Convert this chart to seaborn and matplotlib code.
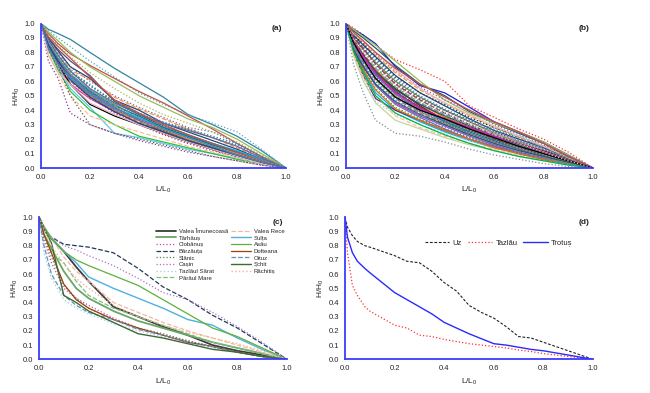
import matplotlib
matplotlib.use("Agg")
import matplotlib.pyplot as plt
import seaborn as sns
import numpy as np
from matplotlib.ticker import FormatStrFormatter

# shared L/L0 grid for panels (a) and (b)
grid_ab = [0, 0.03, 0.07, 0.12, 0.2, 0.3, 0.4, 0.5, 0.6, 0.7, 0.8, 0.9, 1.0]

# panel (a): one row per stream, H/H0 on grid_ab
curves_a = [
    [1, 0.96, 0.93, 0.89, 0.80, 0.69, 0.59, 0.49, 0.37, 0.30, 0.22, 0.12, 0],
    [1, 0.95, 0.90, 0.84, 0.74, 0.63, 0.52, 0.44, 0.37, 0.31, 0.25, 0.13, 0],
    [1, 0.93, 0.86, 0.79, 0.71, 0.62, 0.53, 0.45, 0.36, 0.27, 0.17, 0.08, 0],
    [1, 0.94, 0.88, 0.80, 0.70, 0.60, 0.50, 0.42, 0.34, 0.28, 0.20, 0.10, 0],
    [1, 0.90, 0.80, 0.70, 0.60, 0.50, 0.42, 0.35, 0.28, 0.25, 0.17, 0.08, 0],
    [1, 0.89, 0.80, 0.68, 0.61, 0.49, 0.41, 0.34, 0.27, 0.21, 0.14, 0.07, 0],
    [1, 0.90, 0.81, 0.70, 0.62, 0.47, 0.40, 0.31, 0.25, 0.19, 0.13, 0.06, 0],
    [1, 0.88, 0.78, 0.66, 0.58, 0.45, 0.38, 0.32, 0.27, 0.21, 0.16, 0.08, 0],
    [1, 0.87, 0.76, 0.65, 0.54, 0.44, 0.35, 0.28, 0.22, 0.16, 0.10, 0.05, 0],
    [1, 0.86, 0.74, 0.62, 0.52, 0.42, 0.34, 0.27, 0.21, 0.15, 0.10, 0.05, 0],
    [1, 0.85, 0.73, 0.62, 0.50, 0.40, 0.33, 0.26, 0.20, 0.14, 0.09, 0.04, 0],
    [1, 0.90, 0.82, 0.74, 0.64, 0.46, 0.37, 0.29, 0.23, 0.17, 0.11, 0.05, 0],
    [1, 0.86, 0.76, 0.64, 0.53, 0.41, 0.33, 0.26, 0.19, 0.13, 0.08, 0.04, 0],
    [1, 0.84, 0.72, 0.60, 0.50, 0.40, 0.32, 0.25, 0.19, 0.14, 0.09, 0.04, 0],
    [1, 0.83, 0.70, 0.58, 0.48, 0.39, 0.31, 0.24, 0.18, 0.13, 0.08, 0.04, 0],
    [1, 0.87, 0.77, 0.67, 0.57, 0.46, 0.38, 0.30, 0.23, 0.17, 0.11, 0.05, 0],
    [1, 0.86, 0.75, 0.63, 0.51, 0.41, 0.35, 0.28, 0.22, 0.17, 0.12, 0.06, 0],
    [1, 0.82, 0.70, 0.60, 0.49, 0.38, 0.30, 0.23, 0.17, 0.12, 0.08, 0.04, 0],
    [1, 0.85, 0.72, 0.58, 0.44, 0.36, 0.30, 0.24, 0.18, 0.13, 0.08, 0.03, 0],
    [1, 0.84, 0.70, 0.55, 0.42, 0.24, 0.21, 0.17, 0.13, 0.10, 0.07, 0.03, 0],
    [1, 0.82, 0.68, 0.53, 0.40, 0.30, 0.22, 0.18, 0.14, 0.10, 0.06, 0.03, 0],
    [1, 0.80, 0.65, 0.50, 0.36, 0.30, 0.25, 0.20, 0.15, 0.11, 0.07, 0.03, 0],
    [1, 0.82, 0.70, 0.50, 0.30, 0.24, 0.20, 0.16, 0.12, 0.08, 0.05, 0.02, 0],
    [1, 0.74, 0.62, 0.38, 0.30, 0.24, 0.19, 0.15, 0.11, 0.08, 0.05, 0.02, 0],
    [1, 0.78, 0.66, 0.58, 0.45, 0.37, 0.30, 0.24, 0.18, 0.13, 0.08, 0.03, 0],
    [1, 0.88, 0.79, 0.69, 0.55, 0.43, 0.35, 0.29, 0.22, 0.16, 0.10, 0.05, 0],
    [1, 0.84, 0.74, 0.64, 0.53, 0.43, 0.36, 0.28, 0.22, 0.16, 0.11, 0.05, 0],
    [1, 0.89, 0.78, 0.67, 0.55, 0.45, 0.37, 0.31, 0.26, 0.21, 0.15, 0.07, 0],
    [1, 0.88, 0.78, 0.67, 0.57, 0.46, 0.37, 0.31, 0.27, 0.22, 0.17, 0.08, 0],
    [1, 0.87, 0.76, 0.65, 0.54, 0.43, 0.35, 0.27, 0.21, 0.15, 0.09, 0.04, 0],
    [1, 0.91, 0.84, 0.76, 0.63, 0.47, 0.38, 0.30, 0.23, 0.17, 0.11, 0.05, 0],
    [1, 0.92, 0.85, 0.77, 0.66, 0.55, 0.45, 0.37, 0.31, 0.25, 0.18, 0.09, 0],
    [1, 0.86, 0.75, 0.64, 0.52, 0.42, 0.33, 0.25, 0.19, 0.14, 0.09, 0.04, 0],
    [1, 0.84, 0.71, 0.60, 0.48, 0.40, 0.32, 0.27, 0.20, 0.15, 0.10, 0.05, 0],
    [1, 0.85, 0.74, 0.61, 0.49, 0.39, 0.31, 0.25, 0.19, 0.14, 0.09, 0.04, 0],
    [1, 0.83, 0.72, 0.62, 0.51, 0.41, 0.34, 0.27, 0.21, 0.15, 0.09, 0.04, 0],
]

# panel (b)
curves_b = [
    [1, 0.97, 0.92, 0.85, 0.75, 0.68, 0.60, 0.43, 0.35, 0.27, 0.20, 0.11, 0],
    [1, 0.96, 0.92, 0.86, 0.70, 0.57, 0.52, 0.42, 0.32, 0.25, 0.18, 0.09, 0],
    [1, 0.95, 0.90, 0.83, 0.71, 0.58, 0.50, 0.39, 0.31, 0.24, 0.17, 0.08, 0],
    [1, 0.96, 0.91, 0.85, 0.74, 0.60, 0.47, 0.38, 0.31, 0.25, 0.18, 0.09, 0],
    [1, 0.93, 0.87, 0.79, 0.67, 0.56, 0.47, 0.40, 0.30, 0.23, 0.16, 0.08, 0],
    [1, 0.93, 0.86, 0.78, 0.66, 0.54, 0.45, 0.36, 0.28, 0.21, 0.15, 0.07, 0],
    [1, 0.92, 0.85, 0.77, 0.64, 0.52, 0.43, 0.34, 0.26, 0.20, 0.14, 0.07, 0],
    [1, 0.91, 0.84, 0.75, 0.62, 0.50, 0.41, 0.33, 0.25, 0.19, 0.13, 0.06, 0],
    [1, 0.90, 0.82, 0.73, 0.60, 0.49, 0.40, 0.32, 0.24, 0.18, 0.12, 0.06, 0],
    [1, 0.89, 0.80, 0.70, 0.57, 0.46, 0.37, 0.29, 0.22, 0.16, 0.11, 0.05, 0],
    [1, 0.88, 0.78, 0.68, 0.55, 0.44, 0.35, 0.28, 0.21, 0.15, 0.10, 0.05, 0],
    [1, 0.87, 0.76, 0.65, 0.52, 0.42, 0.33, 0.26, 0.20, 0.14, 0.09, 0.04, 0],
    [1, 0.86, 0.75, 0.63, 0.50, 0.40, 0.32, 0.25, 0.19, 0.14, 0.09, 0.04, 0],
    [1, 0.85, 0.73, 0.61, 0.48, 0.38, 0.30, 0.23, 0.17, 0.12, 0.08, 0.04, 0],
    [1, 0.84, 0.71, 0.58, 0.45, 0.36, 0.29, 0.22, 0.16, 0.11, 0.07, 0.03, 0],
    [1, 0.83, 0.69, 0.55, 0.42, 0.34, 0.27, 0.21, 0.15, 0.10, 0.06, 0.03, 0],
    [1, 0.82, 0.67, 0.52, 0.40, 0.32, 0.25, 0.19, 0.14, 0.10, 0.06, 0.03, 0],
    [1, 0.80, 0.64, 0.48, 0.40, 0.33, 0.26, 0.20, 0.15, 0.10, 0.06, 0.03, 0],
    [1, 0.72, 0.52, 0.33, 0.24, 0.22, 0.18, 0.13, 0.09, 0.06, 0.03, 0.01, 0],
    [1, 0.78, 0.60, 0.45, 0.33, 0.27, 0.21, 0.16, 0.12, 0.08, 0.05, 0.02, 0],
    [1, 0.80, 0.62, 0.46, 0.37, 0.30, 0.24, 0.19, 0.14, 0.09, 0.06, 0.03, 0],
    [1, 0.79, 0.63, 0.50, 0.36, 0.28, 0.22, 0.17, 0.13, 0.09, 0.06, 0.03, 0],
    [1, 0.88, 0.78, 0.66, 0.55, 0.43, 0.33, 0.28, 0.22, 0.17, 0.12, 0.06, 0],
    [1, 0.92, 0.86, 0.76, 0.63, 0.52, 0.44, 0.35, 0.28, 0.22, 0.15, 0.08, 0],
    [1, 0.93, 0.88, 0.80, 0.68, 0.55, 0.45, 0.37, 0.29, 0.22, 0.15, 0.07, 0],
    [1, 0.90, 0.81, 0.71, 0.58, 0.47, 0.39, 0.31, 0.24, 0.18, 0.12, 0.06, 0],
    [1, 0.87, 0.77, 0.66, 0.53, 0.41, 0.32, 0.25, 0.19, 0.13, 0.08, 0.04, 0],
    [1, 0.86, 0.74, 0.62, 0.49, 0.39, 0.31, 0.24, 0.18, 0.13, 0.08, 0.04, 0],
    [1, 0.91, 0.83, 0.74, 0.61, 0.49, 0.40, 0.33, 0.27, 0.21, 0.14, 0.07, 0],
    [1, 0.89, 0.79, 0.69, 0.56, 0.45, 0.37, 0.30, 0.23, 0.17, 0.11, 0.05, 0],
    [1, 0.94, 0.88, 0.80, 0.69, 0.58, 0.49, 0.40, 0.32, 0.25, 0.17, 0.08, 0],
    [1, 0.85, 0.72, 0.60, 0.50, 0.41, 0.33, 0.26, 0.20, 0.14, 0.09, 0.04, 0],
    [1, 0.84, 0.70, 0.57, 0.44, 0.35, 0.27, 0.20, 0.15, 0.10, 0.06, 0.03, 0],
    [1, 0.86, 0.74, 0.62, 0.50, 0.39, 0.31, 0.23, 0.17, 0.12, 0.08, 0.04, 0],
    [1, 0.88, 0.78, 0.67, 0.54, 0.44, 0.36, 0.29, 0.22, 0.16, 0.10, 0.05, 0],
    [1, 0.87, 0.77, 0.64, 0.51, 0.40, 0.33, 0.27, 0.21, 0.15, 0.10, 0.05, 0],
    [1, 0.90, 0.80, 0.70, 0.56, 0.45, 0.36, 0.29, 0.22, 0.16, 0.10, 0.05, 0],
    [1, 0.89, 0.79, 0.67, 0.53, 0.42, 0.34, 0.27, 0.20, 0.15, 0.10, 0.05, 0],
    [1, 0.83, 0.68, 0.54, 0.41, 0.33, 0.26, 0.20, 0.14, 0.10, 0.06, 0.03, 0],
    [1, 0.90, 0.82, 0.72, 0.59, 0.48, 0.40, 0.32, 0.25, 0.19, 0.13, 0.06, 0],
    [1, 0.82, 0.70, 0.58, 0.46, 0.37, 0.30, 0.23, 0.17, 0.12, 0.08, 0.04, 0],
    [1, 0.85, 0.73, 0.60, 0.47, 0.37, 0.28, 0.21, 0.15, 0.11, 0.07, 0.03, 0],
    [1, 0.88, 0.77, 0.65, 0.52, 0.41, 0.34, 0.28, 0.22, 0.17, 0.11, 0.05, 0],
    [1, 0.81, 0.66, 0.50, 0.38, 0.30, 0.23, 0.17, 0.12, 0.08, 0.05, 0.02, 0],
    [1, 0.84, 0.72, 0.59, 0.46, 0.36, 0.29, 0.22, 0.16, 0.11, 0.07, 0.03, 0],
    [1, 0.91, 0.83, 0.72, 0.58, 0.47, 0.38, 0.30, 0.23, 0.17, 0.11, 0.05, 0],
    [1, 0.87, 0.75, 0.62, 0.49, 0.40, 0.34, 0.27, 0.21, 0.15, 0.10, 0.05, 0],
    [1, 0.89, 0.80, 0.70, 0.57, 0.46, 0.38, 0.30, 0.23, 0.17, 0.11, 0.05, 0],
]

# panel (c): named tributaries
grid_c = [0, 0.02, 0.05, 0.1, 0.15, 0.2, 0.3, 0.4, 0.5, 0.6, 0.7, 0.8, 0.9, 1.0]
names_c = ["Valea Îmunecoasă", "Tărhăuș", "Ciobănuș", "Bârzăuța", "Slănic",
           "Cașin", "Tazlăul Sărat", "Pârâul Mare", "Valea Rece", "Sulța",
           "Asău", "Dofteana", "Oituz", "Șchit", "Răchitiș"]
curves_c = [
    [1, 0.93, 0.85, 0.76, 0.65, 0.55, 0.37, 0.30, 0.23, 0.17, 0.10, 0.06, 0.03, 0],
    [1, 0.88, 0.78, 0.62, 0.50, 0.43, 0.34, 0.27, 0.22, 0.17, 0.12, 0.08, 0.04, 0],
    [1, 0.84, 0.68, 0.50, 0.43, 0.38, 0.29, 0.22, 0.17, 0.13, 0.09, 0.05, 0.02, 0],
    [1, 0.92, 0.86, 0.81, 0.80, 0.79, 0.75, 0.64, 0.51, 0.42, 0.31, 0.22, 0.11, 0],
    [1, 0.86, 0.72, 0.52, 0.43, 0.36, 0.28, 0.22, 0.18, 0.13, 0.09, 0.05, 0.02, 0],
    [1, 0.93, 0.86, 0.80, 0.77, 0.73, 0.66, 0.57, 0.47, 0.42, 0.33, 0.23, 0.12, 0],
    [1, 0.75, 0.57, 0.42, 0.36, 0.32, 0.25, 0.20, 0.16, 0.12, 0.08, 0.05, 0.02, 0],
    [1, 0.88, 0.75, 0.68, 0.55, 0.45, 0.36, 0.30, 0.24, 0.18, 0.12, 0.08, 0.04, 0],
    [1, 0.93, 0.86, 0.72, 0.62, 0.55, 0.40, 0.33, 0.26, 0.20, 0.15, 0.10, 0.05, 0],
    [1, 0.93, 0.85, 0.76, 0.68, 0.58, 0.50, 0.43, 0.36, 0.28, 0.24, 0.15, 0.07, 0],
    [1, 0.93, 0.85, 0.76, 0.70, 0.66, 0.59, 0.52, 0.42, 0.32, 0.22, 0.16, 0.08, 0],
    [1, 0.88, 0.75, 0.53, 0.42, 0.36, 0.28, 0.22, 0.17, 0.12, 0.09, 0.05, 0.02, 0],
    [1, 0.80, 0.60, 0.45, 0.38, 0.33, 0.28, 0.21, 0.17, 0.12, 0.09, 0.05, 0.02, 0],
    [1, 0.92, 0.82, 0.45, 0.40, 0.34, 0.26, 0.18, 0.15, 0.11, 0.07, 0.05, 0.02, 0],
    [1, 0.92, 0.80, 0.67, 0.57, 0.50, 0.38, 0.30, 0.24, 0.19, 0.15, 0.11, 0.06, 0],
]
styles_c = [
    ("#3c3c3c", "-", 1.3), ("#6aa56a", "-", 1.3), ("#c050a0", ":", 0.9),
    ("#1f3b55", "--", 0.9), ("#5f7f5f", ":", 0.9), ("#b070c8", ":", 0.9),
    ("#a8d4f0", ":", 1.0), ("#7cc07c", "--", 0.9), ("#f2b8a2", "--", 0.9),
    ("#4fb0e2", "-", 1.0), ("#5cb03c", "-", 0.9), ("#a03c10", "-", 0.9),
    ("#6690b0", "--", 0.9), ("#3f6a30", "-", 1.0), ("#f4b48c", ":", 1.0),
]

# panel (d): main rivers
grid_d = [0, 0.01, 0.03, 0.05, 0.08, 0.1, 0.15, 0.2, 0.25, 0.3, 0.35, 0.4,
          0.45, 0.5, 0.55, 0.6, 0.65, 0.7, 0.75, 0.8, 0.85, 0.9, 0.95, 1.0]
uz = [1.0, 0.93, 0.87, 0.83, 0.80, 0.79, 0.76, 0.73, 0.69, 0.68, 0.62, 0.54,
      0.48, 0.38, 0.33, 0.29, 0.23, 0.16, 0.15, 0.12, 0.09, 0.06, 0.03, 0.0]
tazlau = [1.0, 0.75, 0.52, 0.45, 0.37, 0.34, 0.29, 0.24, 0.22, 0.17, 0.16, 0.14,
          0.125, 0.11, 0.10, 0.09, 0.08, 0.065, 0.055, 0.04, 0.03, 0.02, 0.01, 0.0]
trotus = [1.0, 0.86, 0.75, 0.69, 0.64, 0.61, 0.54, 0.47, 0.42, 0.37, 0.32, 0.26,
          0.22, 0.18, 0.145, 0.11, 0.10, 0.085, 0.07, 0.06, 0.045, 0.03, 0.015, 0.0]

sns.set_style("white")
plt.rcParams['font.family'] = ['Liberation Sans', 'DejaVu Sans']

palette = ['#31859c', '#4bacc6', '#c0504d', '#9bbb59', '#8064a2', '#f79646',
           '#1f497d', '#4f81bd', '#76923c', '#953735', '#e46c0a', '#604a7b',
           '#215968', '#7f7f7f', '#e020c0', '#00b050', '#00b0f0', '#993366',
           '#000000', '#c3d69b', '#93cddd', '#fac090', '#632523', '#17375e',
           '#e6b9b8', '#b3a2c7', '#008080', '#666699']
dash_cycle = ['-', ':', '-', '-', ':', '--', '-', ':']
axis_blue = '#3b3bff'

# a few hand-picked styles for the outlying curves
override_a = {22: ('#5a5a5a', ':'), 23: ('#8b3a8b', ':'), 19: ('#5ec8f0', '-'),
              20: ('#2fbf3f', '-')}
override_b = {0: ('#ff3030', ':'), 1: ('#2020c8', '-'), 2: ('#215968', '-'),
              18: ('#7f8f9f', ':'), 17: ('#60306a', '-')}


def style_axis(ax, letter):
    ax.set_xlim(0, 1)
    ax.set_ylim(0, 1)
    ax.set_xticks(np.arange(0, 1.01, 0.2))
    ax.set_yticks(np.arange(0, 1.01, 0.1))
    ax.xaxis.set_major_formatter(FormatStrFormatter('%.1f'))
    ax.yaxis.set_major_formatter(FormatStrFormatter('%.1f'))
    for s in ['top', 'right']:
        ax.spines[s].set_visible(False)
    for s in ['left', 'bottom']:
        ax.spines[s].set_color(axis_blue)
        ax.spines[s].set_linewidth(1.3)
    ax.tick_params(direction='out', length=2.5, width=0.8, color=axis_blue,
                   labelsize=5.5, pad=1.5)
    ax.set_xlabel('L/L$_\\mathregular{0}$', fontsize=6, labelpad=3)
    ax.set_ylabel('H/H$_\\mathregular{0}$', fontsize=6, labelpad=2)
    ax.text(0.985, 0.99, f'({letter})', transform=ax.transAxes, ha='right',
            va='top', fontsize=6, fontweight='bold')


def draw_bundle(ax, curves, overrides):
    for i, vals in enumerate(curves):
        col, ls = overrides.get(i, (palette[i % len(palette)],
                                    dash_cycle[i % len(dash_cycle)]))
        sns.lineplot(x=grid_ab, y=vals, ax=ax, color=col, linestyle=ls,
                     linewidth=0.9, legend=False)


fig = plt.figure(figsize=(6.5, 3.93), dpi=100)
ax_a = fig.add_axes([41 / 650, 225 / 393, 245 / 650, 144.5 / 393])
ax_b = fig.add_axes([346 / 650, 225 / 393, 247 / 650, 144.5 / 393])
ax_c = fig.add_axes([39 / 650, 33.7 / 393, 248 / 650, 142 / 393])
ax_d = fig.add_axes([345 / 650, 33.7 / 393, 248 / 650, 142 / 393])

draw_bundle(ax_a, curves_a, override_a)
draw_bundle(ax_b, curves_b, override_b)

for name, vals, (col, ls, lw) in zip(names_c, curves_c, styles_c):
    sns.lineplot(x=grid_c, y=vals, ax=ax_c, color=col, linestyle=ls,
                 linewidth=lw, label=name)
ax_c.legend(ncol=2, fontsize=4.3, frameon=False, loc='upper left',
            bbox_to_anchor=(0.47, 0.92), borderaxespad=0, borderpad=0,
            handlelength=3.4, labelspacing=0.25, columnspacing=0.4,
            handletextpad=0.5)

sns.lineplot(x=grid_d, y=uz, ax=ax_d, color='#222222', linestyle=(0, (2.5, 1.5)),
             linewidth=0.8, label='Uz')
sns.lineplot(x=grid_d, y=tazlau, ax=ax_d, color='#ff3030', linestyle=':',
             linewidth=0.9, label='Tazlău')
sns.lineplot(x=grid_d, y=trotus, ax=ax_d, color='#2a2aff', linestyle='-',
             linewidth=1.0, label='Trotuș')
ax_d.legend(ncol=3, fontsize=5.5, frameon=False, loc='center',
            bbox_to_anchor=(0.62, 0.82), handlelength=3.2, columnspacing=0.8,
            handletextpad=0.4, borderaxespad=0)

for ax, letter in zip([ax_a, ax_b, ax_c, ax_d], 'abcd'):
    style_axis(ax, letter)

fig.savefig('out.png', dpi=100)
